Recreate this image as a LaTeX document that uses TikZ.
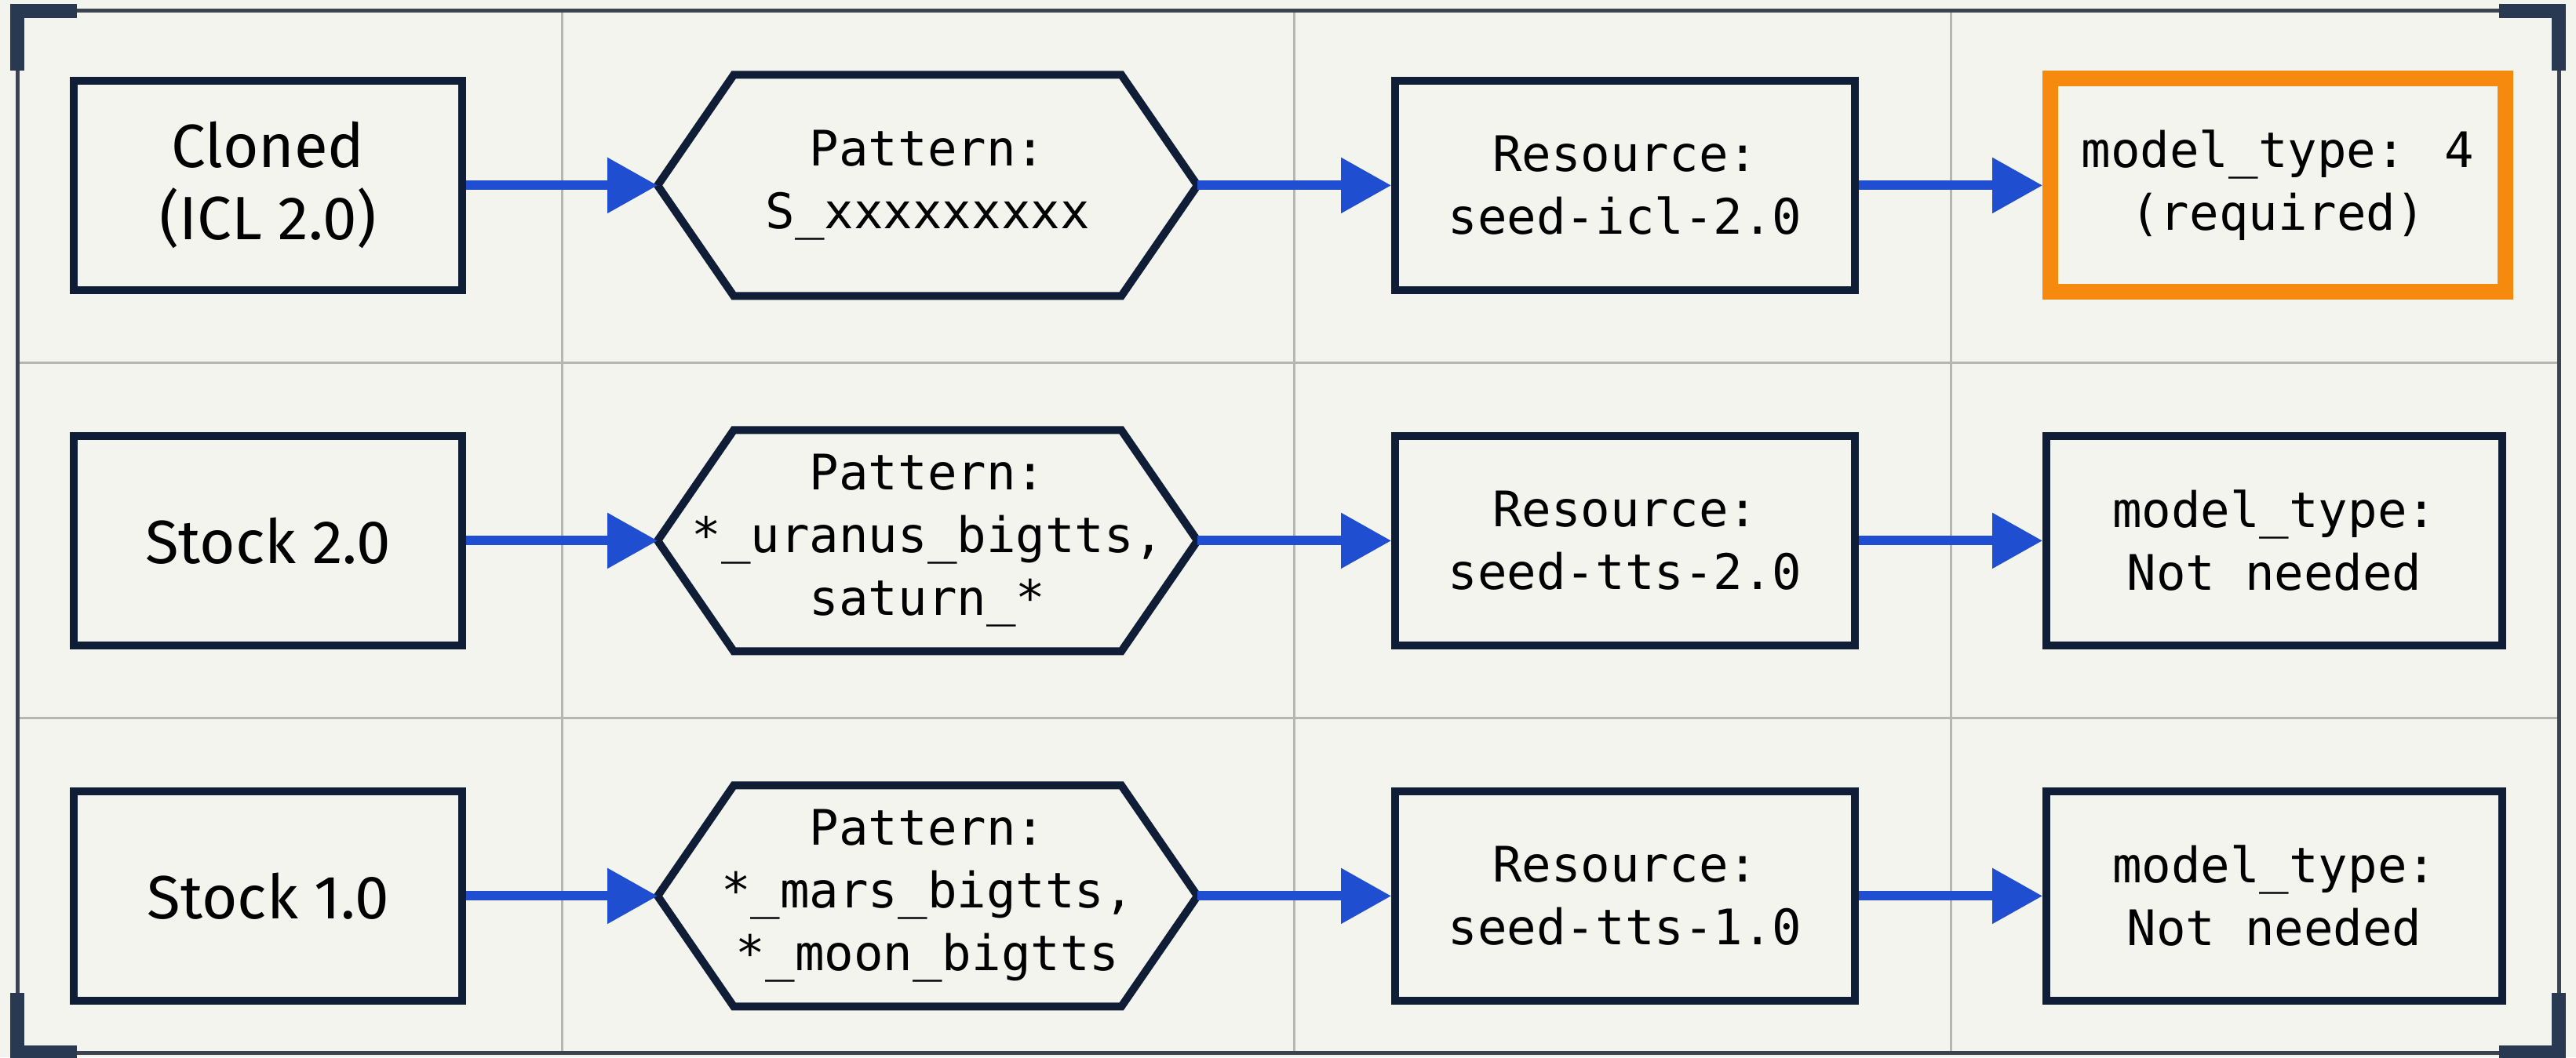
\documentclass[tikz,border=0pt]{standalone}
\usepackage{fontspec}
\usetikzlibrary{positioning, arrows.meta, calc}
\newfontfamily\plexsans{Fira Sans}
\newfontfamily\plexmono{DejaVu Sans Mono}
\definecolor{paper}{HTML}{F4F4EF}
\definecolor{ink}{HTML}{0F1E36}
\definecolor{framegray}{HTML}{3C4350}
\definecolor{bracket}{HTML}{2A3952}
\definecolor{gridgray}{HTML}{B6B6B2}
\definecolor{flow}{HTML}{1F4ED0}
\definecolor{highlight}{HTML}{F68A0F}

\begin{document}
\begin{tikzpicture}[
  >={Triangle[length=16pt, width=17pt]},
  kind/.style={
    draw=ink, line width=2.5pt, fill=paper,
    minimum width=123.75pt, minimum height=66.75pt, inner sep=0pt,
    align=center, font=\plexsans\fontsize{19.5}{23}\selectfont
  },
  hexcell/.style={
    minimum width=172pt, minimum height=70.5pt, inner sep=0pt, outer sep=0pt,
    align=center, font=\plexmono\fontsize{15.6}{20}\selectfont
  },
  hexline/.style={draw=ink, line width=2.5pt, line join=miter},
  resource/.style={
    draw=ink, line width=2.5pt, fill=paper,
    minimum width=146.5pt, minimum height=66.75pt, inner sep=0pt,
    align=center, font=\plexmono\fontsize{15.6}{20}\selectfont
  },
  modeltype/.style={resource, minimum width=145.25pt},
  required/.style={resource, draw=highlight, line width=5pt,
    minimum width=145pt, minimum height=68pt},
  arrow/.style={->, line width=3pt, draw=flow},
  gridline/.style={draw=gridgray, line width=0.75pt},
  corner/.style={draw=bracket, line width=4.5pt, line join=miter}
]

% Page and frame
\useasboundingbox (0,0) rectangle (820.75pt,-337pt);
\fill[paper] (0,0) rectangle (820.75pt,-337pt);
\coordinate (nw) at (5.5pt,-3.5pt);
\coordinate (se) at (815.25pt,-335.5pt);
\coordinate (ne) at (se |- nw);
\coordinate (sw) at (nw |- se);

% Row 1: cloned voices
\node[kind] (cloned) at (85.4pt,-59.1pt) {Cloned\\(ICL 2.0)};
\node[hexcell, right=61pt of cloned] (pat1) {Pattern:\\S\_xxxxxxxxx};
\node[resource, right=61.75pt of pat1] (res1) {Resource:\\seed-icl-2.0};
\node[required, right=58.5pt of res1] (mt1) {model\_type: 4\\(required)};

% Row 2: stock 2.0
\node[kind, below=44pt of cloned] (stock2) {Stock 2.0};
\node[hexcell, right=61pt of stock2] (pat2) {Pattern:\\*\_uranus\_bigtts,\\saturn\_*};
\node[resource, right=61.75pt of pat2] (res2) {Resource:\\seed-tts-2.0};
\node[modeltype, right=58.5pt of res2] (mt2) {model\_type:\\Not needed};

% Row 3: stock 1.0
\node[kind, below=44pt of stock2] (stock1) {Stock 1.0};
\node[hexcell, right=61pt of stock1] (pat3) {Pattern:\\*\_mars\_bigtts,\\*\_moon\_bigtts};
\node[resource, right=61.75pt of pat3] (res3) {Resource:\\seed-tts-1.0};
\node[modeltype, right=58.5pt of res3] (mt3) {model\_type:\\Not needed};

% Hexagon outlines round the pattern cells
\foreach \p in {pat1, pat2, pat3}
  \draw[hexline] (\p.west) -- ([xshift=24.25pt]\p.north west)
    -- ([xshift=-24.25pt]\p.north east) -- (\p.east)
    -- ([xshift=-24.25pt]\p.south east) -- ([xshift=24.25pt]\p.south west) -- cycle;

% Grid between cells
\coordinate (v1) at ($(cloned.east)!0.5!(pat1.west)$);
\coordinate (v2) at ($(pat1.east)!0.5!(res1.west)$);
\coordinate (v3) at ($(res1.east)!0.5!(mt1.west)$);
\coordinate (h1) at ($(cloned.south)!0.5!(stock2.north)$);
\coordinate (h2) at ($(stock2.south)!0.5!(stock1.north)$);
\draw[gridline] (v1 |- nw) -- (v1 |- se);
\draw[gridline] (v2 |- nw) -- (v2 |- se);
\draw[gridline] (v3 |- nw) -- (v3 |- se);
\draw[gridline] (nw |- h1) -- (se |- h1);
\draw[gridline] (nw |- h2) -- (se |- h2);

\draw[draw=framegray, line width=1.25pt] (nw) rectangle (se);
\draw[corner] ($(nw)+(0,-19pt)$) -- (nw) -- ($(nw)+(19pt,0)$);
\draw[corner] ($(ne)+(-19pt,0)$) -- (ne) -- ($(ne)+(0,-19pt)$);
\draw[corner] ($(se)+(0,19pt)$) -- (se) -- ($(se)+(-19pt,0)$);
\draw[corner] ($(sw)+(19pt,0)$) -- (sw) -- ($(sw)+(0,19pt)$);

% Arrows
\draw[arrow] (cloned) -- (pat1);
\draw[arrow] (pat1) -- (res1);
\draw[arrow] (res1) -- (mt1);
\draw[arrow] (stock2) -- (pat2);
\draw[arrow] (pat2) -- (res2);
\draw[arrow] (res2) -- (mt2);
\draw[arrow] (stock1) -- (pat3);
\draw[arrow] (pat3) -- (res3);
\draw[arrow] (res3) -- (mt3);

\end{tikzpicture}
\end{document}
